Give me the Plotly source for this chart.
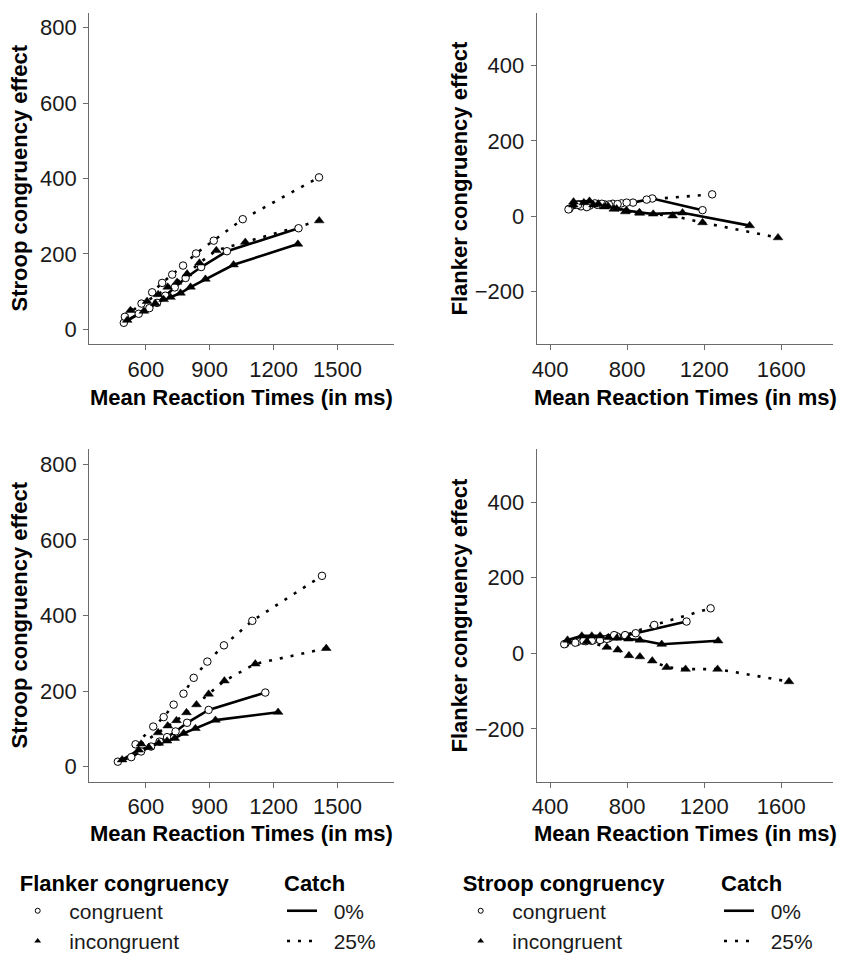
import plotly.graph_objects as go

# ---------------- data ----------------
# Panel 1 (top-left): Stroop congruency effect, split by Flanker congruency
tl_cong0_x = [497, 567, 617, 653, 692, 736, 787, 860, 981, 1317]
tl_cong0_y = [17, 41, 56, 70, 89, 111, 136, 165, 207, 268]
tl_cong25_x = [502, 580, 630, 677, 724, 775, 836, 919, 1055, 1413]
tl_cong25_y = [33, 68, 98, 123, 145, 169, 201, 235, 292, 403]
tl_inc0_x = [513, 591, 645, 684, 716, 763, 810, 880, 1012, 1314]
tl_inc0_y = [24, 48, 68, 79, 85, 96, 112, 133, 171, 226]
tl_inc25_x = [528, 606, 658, 703, 747, 794, 852, 931, 1067, 1414]
tl_inc25_y = [50, 74, 92, 112, 125, 147, 176, 209, 231, 288]

# Panel 2 (top-right): Flanker congruency effect, split by Stroop congruency
tr_cong0_x = [500, 560, 605, 645, 685, 725, 770, 830, 930, 1191]
tr_cong0_y = [20, 26, 28, 30, 31, 33, 34, 36, 47, 16]
tr_cong25_x = [495, 545, 590, 632, 668, 705, 750, 797, 901, 1241]
tr_cong25_y = [18, 30, 24, 34, 33, 31, 32, 36, 44, 58]
tr_inc0_x = [521, 604, 650, 700, 745, 797, 863, 935, 1087, 1436]
tr_inc0_y = [38, 40, 33, 27, 20, 15, 10, 6, 9, -25]
tr_inc25_x = [520, 575, 625, 680, 730, 790, 865, 1036, 1191, 1583]
tr_inc25_y = [30, 36, 30, 25, 19, 12, 8, 1, -17, -57]

# Panel 3 (bottom-left): Stroop congruency effect, split by Flanker congruency
bl_cong0_x = [469, 532, 578, 625, 665, 700, 740, 794, 895, 1161]
bl_cong0_y = [13, 25, 40, 53, 66, 78, 93, 116, 150, 196]
bl_cong25_x = [552, 635, 684, 731, 777, 825, 889, 967, 1100, 1427]
bl_cong25_y = [59, 106, 131, 164, 193, 235, 278, 321, 386, 505]
bl_inc0_x = [489, 567, 614, 661, 700, 736, 778, 833, 927, 1221]
bl_inc0_y = [18, 44, 51, 62, 68, 75, 88, 101, 123, 144]
bl_inc25_x = [578, 658, 703, 744, 791, 838, 895, 969, 1114, 1447]
bl_inc25_y = [60, 90, 108, 122, 143, 164, 192, 227, 272, 313]

# Panel 4 (bottom-right): Flanker congruency effect, split by Stroop congruency
br_cong0_x = [478, 540, 585, 625, 665, 705, 745, 790, 844, 1108]
br_cong0_y = [25, 30, 32, 35, 37, 40, 45, 47, 53, 84]
br_cong25_x = [473, 530, 573, 616, 659, 694, 732, 789, 940, 1233]
br_cong25_y = [24, 28, 33, 33, 35, 38, 48, 48, 75, 119]
br_inc0_x = [490, 564, 616, 659, 702, 746, 806, 866, 979, 1272]
br_inc0_y = [35, 46, 46, 46, 42, 40, 38, 35, 24, 33]
br_inc25_x = [590, 694, 751, 809, 866, 930, 1005, 1103, 1269, 1640]
br_inc25_y = [31, 16, 9, -6, -9, -20, -37, -42, -42, -75]

stroop_ticks = [0, 200, 400, 600, 800]
flanker_ticks = [-200, 0, 200, 400]
left_x_ticks = [600, 900, 1200, 1500]
right_x_ticks = [400, 800, 1200, 1600]

x_title = "Mean Reaction Times (in ms)"
y_title_left = "Stroop congruency effect"
y_title_right = "Flanker congruency effect"
cong_labels = ["congruent", "incongruent"]
catch_labels = ["0%", "25%"]

# ---------------- figure ----------------
FONT = "Liberation Sans, Arial, sans-serif"
DOT = "3px,8px"
fig = go.Figure()

panels = [
    ("x", "y", [(tl_cong0_x, tl_cong0_y, "c", "solid"), (tl_cong25_x, tl_cong25_y, "c", DOT),
                (tl_inc0_x, tl_inc0_y, "i", "solid"), (tl_inc25_x, tl_inc25_y, "i", DOT)]),
    ("x2", "y2", [(tr_cong0_x, tr_cong0_y, "c", "solid"), (tr_cong25_x, tr_cong25_y, "c", DOT),
                  (tr_inc0_x, tr_inc0_y, "i", "solid"), (tr_inc25_x, tr_inc25_y, "i", DOT)]),
    ("x3", "y3", [(bl_cong0_x, bl_cong0_y, "c", "solid"), (bl_cong25_x, bl_cong25_y, "c", DOT),
                  (bl_inc0_x, bl_inc0_y, "i", "solid"), (bl_inc25_x, bl_inc25_y, "i", DOT)]),
    ("x4", "y4", [(br_cong0_x, br_cong0_y, "c", "solid"), (br_cong25_x, br_cong25_y, "c", DOT),
                  (br_inc0_x, br_inc0_y, "i", "solid"), (br_inc25_x, br_inc25_y, "i", DOT)]),
]

circle = dict(symbol="circle", size=7.5, color="white", line=dict(color="black", width=1))
tri = dict(symbol="triangle-up", size=8.5, color="black", line=dict(color="black", width=0.5))

for xa, ya, series in panels:
    for xs, ys, kind, dash in series:
        fig.add_trace(go.Scatter(x=xs, y=ys, xaxis=xa, yaxis=ya, mode="lines",
                                 line=dict(color="black", width=2.6, dash=dash),
                                 showlegend=False, hoverinfo="skip"))
    for xs, ys, kind, dash in series:
        fig.add_trace(go.Scatter(x=xs, y=ys, xaxis=xa, yaxis=ya, mode="markers",
                                 marker=circle if kind == "c" else tri,
                                 showlegend=False))

# legend entries
NB = "\u00a0"
for lg in ["legend", "legend3"]:
    fig.add_trace(go.Scatter(x=[None], y=[None], mode="markers", legend=lg,
                             name=NB * 2 + cong_labels[0],
                             marker=dict(symbol="circle", size=5, color="white",
                                         line=dict(color="black", width=1))))
    fig.add_trace(go.Scatter(x=[None], y=[None], mode="markers", legend=lg,
                             name=NB * 2 + cong_labels[1],
                             marker=dict(symbol="triangle-up", size=6, color="black")))
for lg in ["legend2", "legend4"]:
    fig.add_trace(go.Scatter(x=[None], y=[None], mode="lines", legend=lg,
                             name=NB * 2 + catch_labels[0],
                             line=dict(color="black", width=2.6)))
    fig.add_trace(go.Scatter(x=[None], y=[None], mode="lines", legend=lg,
                             name=NB * 2 + catch_labels[1],
                             line=dict(color="black", width=2.6, dash=DOT)))

# the page body has an 8px margin: the figure covers window pixels 8..847 x 8..956
OFF = 8
W, H = 847 - OFF, 956 - OFF
def px(x):
    return (x - OFF) / W
def py(y):
    return 1 - (y - OFF) / H
def dx(a, b):
    return [px(a), px(b)]
def dy(top, bot):
    return [py(bot), py(top)]

TICK = 22
TITLE = 22
axis_common = dict(showline=True, linecolor="#6b6b6b", linewidth=1.2, ticks="outside",
                   ticklen=5, tickcolor="#6b6b6b", tickwidth=1.2,
                   tickfont=dict(family=FONT, size=TICK, color="#1a1a1a"),
                   showgrid=False, zeroline=False, fixedrange=True)

LX = dx(89.3, 394)
RX = dx(536.7, 833.3)
TY = dy(12.7, 344.3)
BY = dy(449.3, 781.7)

def xax(dom, rng, ticks, anchor):
    d = dict(axis_common)
    d.update(domain=dom, range=rng, tickvals=ticks, anchor=anchor, ticklabelstandoff=0)
    return d

def yax(dom, rng, ticks, anchor):
    d = dict(axis_common)
    d.update(domain=dom, range=rng, tickvals=ticks, anchor=anchor, ticklabelstandoff=2)
    return d

legend_common = dict(orientation="v", xanchor="left", yanchor="top",
                     font=dict(family=FONT, size=21, color="#1a1a1a"),
                     bgcolor="rgba(0,0,0,0)", tracegroupgap=0, itemclick=False)

def leg(title, x, y):
    d = dict(legend_common)
    d.update(x=px(x), y=py(y),
             title=dict(text="<b>" + title + "</b>", font=dict(family=FONT, size=22, color="black")))
    return d

LEG_TOP = 862
fig.update_layout(
    width=W, height=H, margin=dict(l=0, r=0, t=0, b=0, autoexpand=False),
    paper_bgcolor="white", plot_bgcolor="white",
    xaxis=xax(LX, [335, 1765], left_x_ticks, "y"),
    yaxis=yax(TY, [-40, 840], stroop_ticks, "x"),
    xaxis2=xax(RX, [330, 1870], right_x_ticks, "y2"),
    yaxis2=yax(TY, [-340, 540], flanker_ticks, "x2"),
    xaxis3=xax(LX, [335, 1765], left_x_ticks, "y3"),
    yaxis3=yax(BY, [-40, 840], stroop_ticks, "x3"),
    xaxis4=xax(RX, [330, 1870], right_x_ticks, "y4"),
    yaxis4=yax(BY, [-340, 540], flanker_ticks, "x4"),
    legend=leg("Flanker congruency", 17.7, LEG_TOP),
    legend2=leg("Catch", 282, LEG_TOP),
    legend3=leg("Stroop congruency", 460.7, LEG_TOP),
    legend4=leg("Catch", 719, LEG_TOP),
)

ann = []
for cx, cy in [(241.6, 397), (685, 397), (241.6, 833), (685, 833)]:
    ann.append(dict(text="<b>" + x_title + "</b>", x=px(cx), y=py(cy), xref="paper", yref="paper",
                    showarrow=False, xanchor="center", yanchor="middle",
                    font=dict(family=FONT, size=TITLE, color="black")))
for cx, cy, t in [(19, 178.5, y_title_left), (459, 178.5, y_title_right),
                  (19, 615.5, y_title_left), (459, 615.5, y_title_right)]:
    ann.append(dict(text="<b>" + t + "</b>", x=px(cx), y=py(cy), xref="paper", yref="paper",
                    showarrow=False, xanchor="center", yanchor="middle", textangle=-90,
                    font=dict(family=FONT, size=TITLE, color="black")))
fig.update_layout(annotations=ann)

fig.write_html("out.html")
